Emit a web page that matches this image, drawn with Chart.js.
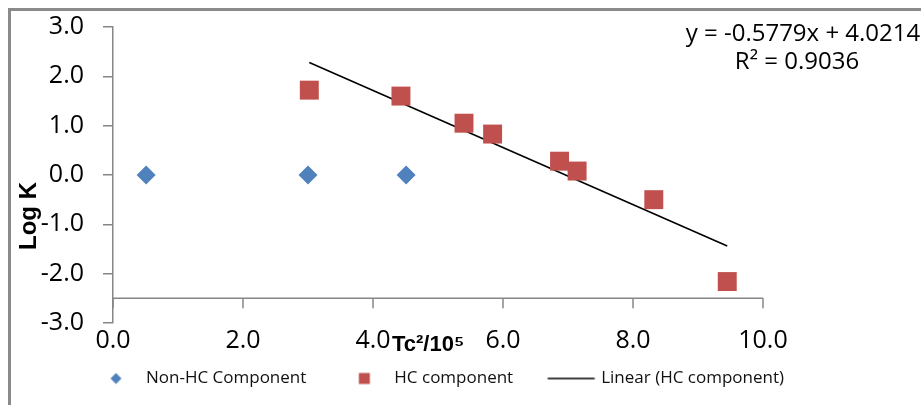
<!DOCTYPE html>
<html>
<head>
<meta charset="utf-8">
<script src="https://cdn.jsdelivr.net/npm/chart.js@4.4.1/dist/chart.umd.min.js"></script>
<style>
  html, body { margin: 0; padding: 0; background: #fff; }
  #chart { display: block; }
</style>
</head>
<body>
<canvas id="chart" width="921" height="405"></canvas>
<script>
// values
const nonHcX = [0.51, 3.0, 4.51];
const nonHcY = [0, 0, 0];
const hcX = [3.02, 4.43, 5.40, 5.84, 6.87, 7.14, 8.32, 9.45];
const hcY = [1.72, 1.60, 1.05, 0.83, 0.28, 0.08, -0.50, -2.16];
const trendX = [3.02, 9.45];
const trendY = [2.28, -1.44];

const seriesNames = ["Non-HC Component", "HC component", "Linear (HC component)"];
const xTicks = [0, 2, 4, 6, 8, 10];
const yTicks = [-3, -2, -1, 0, 1, 2, 3];
const xTitle = "Tc²/10⁵";
const yTitle = "Log K";
const trendText = ["y = -0.5779x + 4.0214", "R² = 0.9036"];
const xAxisCross = -2.5;

const blue = "#4F81BD";
const red = "#C0504D";
const axisGrey = "#868686";

const toPoints = (xs, ys) => xs.map((x, i) => ({ x: x, y: ys[i] }));

// legend markers: Excel puts the marker close to its text, so the
// marker is drawn to the right of the centre of a wide legend box
const legendBox = 72.5;
const markerShift = 14.75;
const legendMarker = (kind) => {
  const c = document.createElement("canvas");
  const g = c.getContext("2d");
  c.width = 90;
  c.height = 14;
  const cx = c.width / 2 + markerShift, cy = c.height / 2;
  if (kind === "diamond") {
    g.fillStyle = blue;
    g.beginPath();
    g.moveTo(cx, cy - 5.5); g.lineTo(cx + 5.5, cy); g.lineTo(cx, cy + 5.5); g.lineTo(cx - 5.5, cy);
    g.closePath();
    g.fill();
  } else if (kind === "square") {
    g.fillStyle = red;
    g.fillRect(cx - 5.5, cy - 5.5, 11, 11);
  } else {
    g.fillStyle = "#000";
    g.fillRect(cx - 23.5, cy - 0.75, 47, 1.5);
  }
  return c;
};
const legendMarkers = [legendMarker("diamond"), legendMarker("square"), legendMarker("line")];

const excelBits = {
  id: "excelBits",
  beforeDraw(chart) {
    const ctx = chart.ctx;
    ctx.save();
    ctx.fillStyle = "#fff";
    ctx.fillRect(0, 0, chart.width, chart.height);
    ctx.strokeStyle = "#8a8a8a";
    ctx.lineWidth = 3;
    ctx.strokeRect(9.5, 9.5, chart.width + 40, chart.height + 40);
    ctx.restore();
  },
  beforeDatasetsDraw(chart) {
    // horizontal axis crosses the vertical one at -2.5
    const ctx = chart.ctx;
    const x = chart.scales.x, y = chart.scales.y;
    const yPix = y.getPixelForValue(xAxisCross);
    ctx.save();
    ctx.strokeStyle = axisGrey;
    ctx.lineWidth = 1.5;
    ctx.beginPath();
    ctx.moveTo(x.getPixelForValue(x.min), yPix);
    ctx.lineTo(x.getPixelForValue(x.max), yPix);
    x.ticks.forEach(t => {
      const px = x.getPixelForValue(t.value);
      ctx.moveTo(px, yPix);
      ctx.lineTo(px, yPix + 10);
    });
    ctx.stroke();
    ctx.restore();
  },
  afterDraw(chart) {
    const ctx = chart.ctx;
    ctx.save();
    ctx.fillStyle = "#000";
    ctx.font = "bold 24px 'Liberation Sans', Arial, sans-serif";
    ctx.textAlign = "center";
    ctx.textBaseline = "middle";
    ctx.translate(29, 216);
    ctx.rotate(-Math.PI / 2);
    ctx.fillText(yTitle, 0, 0);
    ctx.restore();

    ctx.save();
    ctx.fillStyle = "#000";
    ctx.font = "bold 22px 'Liberation Sans', Arial, sans-serif";
    ctx.textAlign = "left";
    ctx.textBaseline = "alphabetic";
    ctx.fillText(xTitle, 392, 351);

    ctx.font = "24px 'Open Sans', sans-serif";
    ctx.textAlign = "center";
    ctx.fillText(trendText[0], 803, 41);
    ctx.fillText(trendText[1], 797, 69);
    ctx.restore();
  }
};

Chart.defaults.font.family = "'Open Sans', sans-serif";
Chart.defaults.color = "#000";

const chart = new Chart(document.getElementById("chart").getContext("2d"),
{
  type: "scatter",
  data:
  {
    datasets:
    [
      {
        label: seriesNames[0],
        data: toPoints(nonHcX, nonHcY),
        pointStyle: "rectRot",
        pointRadius: 9.5,
        backgroundColor: blue,
        borderColor: blue,
        borderWidth: 0
      },
      {
        label: seriesNames[1],
        data: toPoints(hcX, hcY),
        pointStyle: "rect",
        pointRadius: 13.4,
        backgroundColor: red,
        borderColor: red,
        borderWidth: 0
      },
      {
        label: seriesNames[2],
        data: toPoints(trendX, trendY),
        showLine: true,
        pointRadius: 0,
        borderColor: "#000",
        backgroundColor: "#000",
        borderWidth: 1.6
      }
    ]
  },
  options:
  {
    responsive: false,
    devicePixelRatio: 1,
    animation: false,
    layout: { padding: { left: 0, right: 72, top: 27, bottom: 8 } },
    plugins:
    {
      tooltip: { enabled: false },
      legend:
      {
        position: "bottom",
        labels:
        {
          usePointStyle: true,
          pointStyleWidth: legendBox,
          padding: 7,
          color: "#111",
          font: { size: 17 },
          generateLabels(chart) {
            const items = Chart.defaults.plugins.legend.labels.generateLabels(chart);
            items.forEach((it, i) => { it.pointStyle = legendMarkers[i]; });
            return items;
          }
        }
      }
    },
    scales:
    {
      x:
      {
        type: "linear",
        min: xTicks[0],
        max: xTicks[xTicks.length - 1],
        afterBuildTicks(s) { s.ticks = xTicks.map(v => ({ value: v })); },
        afterFit(s) { s.height = 40; },
        grid: { display: false },
        border: { display: false },
        ticks: { padding: -5, font: { size: 25 }, callback: v => v.toFixed(1) }
      },
      y:
      {
        type: "linear",
        min: yTicks[0],
        max: yTicks[yTicks.length - 1],
        afterBuildTicks(s) { s.ticks = yTicks.map(v => ({ value: v })); },
        afterFit(s) { s.width = 113; s.paddingTop = 15; s.paddingBottom = 15; },
        grid: { drawOnChartArea: false, drawTicks: true, tickLength: 10, color: axisGrey, lineWidth: 1.5 },
        border: { display: true, color: axisGrey, width: 1.5 },
        ticks: { padding: 19, font: { size: 25 }, callback: v => v.toFixed(1) }
      },
      yR:
      {
        type: "linear",
        position: "right",
        display: true,
        afterFit(s) { s.width = 86; },
        grid: { display: false },
        border: { display: false },
        ticks: { display: false }
      }
    }
  },
  plugins: [excelBits]
});
</script>
</body>
</html>
